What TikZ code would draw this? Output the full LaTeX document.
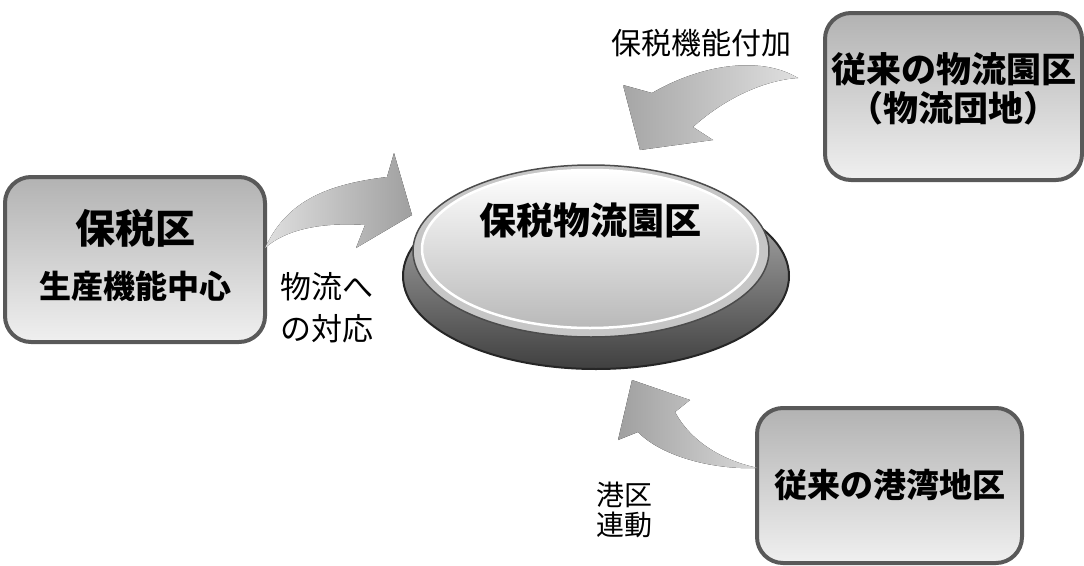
\documentclass[tikz,border=0pt]{standalone}
\usepackage{fontspec}
\setmainfont{Noto Sans CJK JP}
\usepackage{tikz}
\usetikzlibrary{shapes.geometric, positioning}

\begin{document}
\begin{tikzpicture}[x=1pt, y=-1pt, semithick]
  \tikzstyle{zone}=[draw=black!65, line width=4pt, rounded corners=26pt,
                    top color=gray!60, bottom color=gray!12, align=center,
                    font=\bfseries]
  \tikzstyle{note}=[align=left, inner sep=0pt]
  \tikzstyle{flow}=[draw=none]

  \useasboundingbox (0,0) rectangle (1084,565);

  \node[ellipse, minimum width=386pt, minimum height=186pt, draw=black!85,
        line width=2pt, top color=gray!55, bottom color=black!75] (base) at (596,276) {};
  \node[ellipse, minimum width=356pt, minimum height=172pt, draw=black!70,
        line width=1.5pt, fill=gray!45] (rim) at (591,251) {};
  \node[ellipse, minimum width=336pt, minimum height=158pt, draw=white,
        line width=2.5pt, top color=white, bottom color=gray!55] (cap) at (590,249) {};
  \node[font=\bfseries\fontsize{37pt}{40pt}\selectfont] (hub) at ([yshift=29pt]cap.center) {保税物流園区};

  \node[zone, minimum width=260pt, minimum height=165pt] (bz) at (135,259.5)
        {\raisebox{4pt}[\height][\depth]{\shortstack{{\fontsize{40pt}{44pt}\selectfont 保税区}\\[20pt]{\fontsize{32pt}{36pt}\selectfont 生産機能中心}}}};
  \node[zone, minimum width=257pt, minimum height=167pt, inner sep=0pt] (tr) at (953.5,96.5)
        {\raisebox{8pt}[\height][\depth]{\fontsize{35pt}{37pt}\selectfont\shortstack{従来の物流園区\\[2pt]（物流団地）}}};
  \node[zone, minimum width=265pt, minimum height=155pt] (br) at (889.5,485.5)
        {\fontsize{33pt}{36pt}\selectfont 従来の港湾地区};

  \node[note, font=\fontsize{31pt}{42pt}\selectfont] (toflow) at (327,308) {物流へ\\の対応};
  \node[note, font=\fontsize{30pt}{34pt}\selectfont] (addbond) at (701,43) {保税機能付加};
  \node[note, font=\fontsize{28pt}{30pt}\selectfont] (portlink) at (624,510) {港区\\連動};

  \coordinate (t1) at (265,248);
  \coordinate (t2) at (798,78);
  \coordinate (t3) at (758,468);

  \fill[flow, left color=gray!25, right color=gray!75]
    (t1) .. controls (285,205) and (320,185) .. (387,177) -- (394,153) -- (412,215)
    -- (356,248) -- (365,225) .. controls (320,222) and (285,230) .. (t1);
  \fill[flow, left color=gray!70, right color=gray!25]
    (t2) .. controls (760,55) and (700,65) .. (652,93) -- (623,85) -- (640,150)
    -- (713,140) -- (693,127) .. controls (725,98) and (765,80) .. (t2);
  \fill[flow, left color=gray!75, right color=gray!30]
    (t3) .. controls (720,460) and (690,440) .. (675,412) -- (690,400) -- (632,380)
    -- (618,440) -- (638,432) .. controls (660,455) and (710,470) .. (t3);
\end{tikzpicture}
\end{document}
